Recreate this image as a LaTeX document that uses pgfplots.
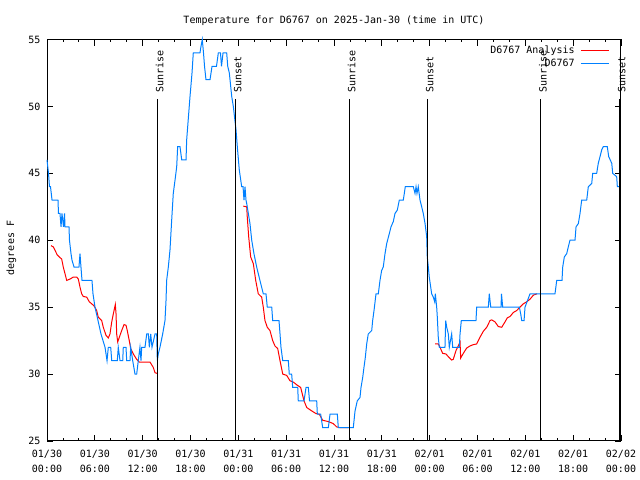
\documentclass[border=0pt]{standalone}
\usepackage{fontspec}
\setmainfont{DejaVu Sans Mono}
\usepackage{pgfplots}
\pgfplotsset{compat=1.18}
\definecolor{obsblue}{RGB}{0,128,255}
\definecolor{anared}{RGB}{255,0,0}
\newcommand{\gfont}{\fontsize{10bp}{12bp}\selectfont}
\begin{document}
\begin{tikzpicture}
\path[use as bounding box] (0,0) rectangle (640bp,480bp);
\begin{axis}[
  at={(47bp,39bp)}, anchor=south west,
  scale only axis, width=574bp, height=401.5bp,
  xmin=0, xmax=72, ymin=25, ymax=55,
  clip=false,
  xtick={0,6,...,72},
  xticklabels={{01/30\\00:00},{01/30\\06:00},{01/30\\12:00},{01/30\\18:00},{01/31\\00:00},{01/31\\06:00},{01/31\\12:00},{01/31\\18:00},{02/01\\00:00},{02/01\\06:00},{02/01\\12:00},{02/01\\18:00},{02/02\\00:00}},
  minor x tick num=2,
  ytick={25,30,...,55},
  tick align=inside,
  major tick length=6bp, minor tick length=3bp,
  every tick/.style={black, line width=0.8bp},
  axis line style={black, line width=1bp},
  font=\gfont,
  /pgf/number format/assume math mode=true,
  xticklabel style={align=center, font=\fontsize{10bp}{15bp}\selectfont, yshift=-6bp},
  yticklabel style={xshift=-3bp},
  legend style={at={(0.98,0.99)}, anchor=north east, draw=none, fill=none,
    inner sep=0pt, row sep=0bp, font=\gfont},
  legend cell align=right,
  legend plot pos=right,
]
\addlegendimage{legend image code/.code={\path (0bp,0bp); \draw[anared, line width=1bp] (4bp,0bp) -- (32bp,0bp);}}
\addlegendentry{D6767 Analysis}
\addlegendimage{legend image code/.code={\path (0bp,0bp); \draw[obsblue, line width=1bp] (4bp,0bp) -- (32bp,0bp);}}
\addlegendentry{D6767}
% Analysis (red), three segments
\addplot[anared, line width=1bp, forget plot] coordinates {
(0.50,39.6)(0.79,39.5)(1.00,39.25)(1.29,38.9)(1.63,38.7)(1.84,38.6)(2.04,38)(2.26,37.5)(2.47,37)(2.89,37.1)(3.30,37.25)(3.73,37.25)(3.93,37.1)(4.14,36.5)(4.35,36)(4.55,35.8)(4.98,35.75)(5.31,35.4)(5.61,35.25)(5.90,35.1)(6.23,34.75)(6.43,34.25)(6.86,34)(7.06,33.5)(7.40,32.9)(7.69,32.7)(7.90,33)(8.12,33.9)(8.32,34.5)(8.57,35.2)(8.66,34.5)(8.74,33)(8.87,32.4)(9.16,32.9)(9.37,33.25)(9.66,33.7)(9.91,33.65)(10.07,33.25)(10.32,32.5)(10.50,31.9)(10.83,31.5)(11.25,31.1)(11.58,30.9)(12.51,30.9)(12.92,30.9)(13.33,30.5)(13.55,30.1)(13.84,30.05)
};
\addplot[anared, line width=1bp, forget plot] coordinates {
(24.62,42.55)(25.05,42.5)(25.12,41.75)(25.30,40.25)(25.55,38.75)(25.88,38.25)(26.18,37)(26.50,36)(26.93,35.75)(27.13,35)(27.34,34)(27.63,33.5)(27.97,33.25)(28.31,32.5)(28.60,32.1)(28.94,31.9)(29.23,31)(29.57,30)(30.07,29.9)(30.48,29.5)(30.90,29.4)(31.32,29.2)(31.82,29)(32.24,28)(32.58,27.5)(33.20,27.25)(33.74,27.05)(34.16,27)(34.58,26.55)(35.29,26.45)(35.91,26.3)(36.34,26.05)(36.75,26)(37.79,26)
};
\addplot[anared, line width=1bp, forget plot] coordinates {
(48.67,32.25)(49.08,32.25)(49.30,32)(49.63,31.55)(50.05,31.5)(50.34,31.3)(50.76,31.05)(50.96,31.1)(51.30,31.75)(51.59,32.1)(51.81,32.4)(51.89,31.2)(52.22,31.55)(52.65,31.95)(53.06,32.1)(53.48,32.2)(53.90,32.25)(54.31,32.75)(54.73,33.2)(55.16,33.5)(55.57,34)(55.78,34.05)(56.20,33.9)(56.61,33.55)(57.04,33.5)(57.45,33.9)(57.74,34.2)(58.08,34.3)(58.49,34.6)(58.92,34.75)(59.33,35)(59.75,35.25)(60.17,35.4)(60.59,35.6)(61.01,35.9)(61.47,36)
};
% Observations (blue)
\addplot[obsblue, line width=1bp, forget plot] coordinates {
(0,46)(0.19,45)(0.31,44)(0.44,44)(0.63,43)(1.38,43)(1.44,42)(1.63,42)(1.76,41)(1.88,42)(2.07,41)(2.20,42)(2.26,41)(2.76,41)(2.82,40)(3.01,39)(3.14,38.5)(3.39,38)(4.01,38)(4.14,39)(4.26,38)(4.39,37)(5.64,37)(5.77,36)(6.02,35)(6.40,34)(6.77,33)(7.28,32)(7.53,31)(7.69,32)(7.99,32)(8.12,31)(8.82,31)(8.94,32)(9.16,31)(9.50,31)(9.57,32)(9.91,32)(10.00,31)(10.41,31)(10.50,32)(10.75,31)(11.04,30)(11.25,30)(11.45,31)(11.66,32)(11.79,31)(11.88,32)(12.29,32)(12.51,33)(12.71,33)(12.84,32)(13.01,33)(13.17,32)(13.55,33)(13.76,33)(13.84,31)(13.96,31.5)(14.17,32)(14.51,33)(14.80,34)(14.93,35.5)(15.01,37)(15.22,38)(15.43,39.3)(15.64,41.5)(15.84,43.5)(16.06,44.5)(16.27,45.5)(16.39,47)(16.68,47)(16.90,46)(17.44,46)(17.52,47.5)(17.94,50.75)(18.19,52.5)(18.35,54)(19.19,54)(19.32,54.5)(19.48,55)(19.63,54)(19.76,53)(19.94,52)(20.45,52)(20.70,53)(21.26,53)(21.49,54)(21.76,54)(21.89,53)(22.08,54)(22.54,54)(22.67,53)(22.87,52.5)(23.17,50.75)(23.37,50)(23.71,48.25)(23.87,47)(24.12,45.25)(24.42,44)(24.59,44)(24.71,43)(24.84,44)(24.96,43)(25.05,42.75)(25.46,41.25)(25.68,40)(25.96,39)(26.30,38)(26.71,37)(27.13,36)(27.47,36)(27.63,35)(28.19,35)(28.31,34)(29.10,34)(29.23,33)(29.35,32)(29.57,31)(30.27,31)(30.39,30)(30.69,30)(30.82,29)(31.45,29)(31.52,28)(32.24,28)(32.49,29)(32.78,29)(32.93,28)(33.83,28)(33.91,27)(34.33,27)(34.58,26)(35.29,26)(35.50,27)(36.42,27)(36.54,26)(38.42,26)(38.64,27.25)(38.92,28)(39.26,28.25)(39.39,29)(39.60,29.75)(39.76,30.5)(39.93,31.25)(40.10,32.25)(40.30,33)(40.73,33.25)(40.85,34)(41.02,34.75)(41.27,36)(41.56,36)(41.77,37)(41.98,37.75)(42.18,38)(42.40,39)(42.61,39.75)(42.94,40.5)(43.15,41)(43.44,41.4)(43.65,42)(43.94,42.25)(44.19,43)(44.69,43)(44.82,43.5)(44.94,44)(45.95,44)(46.16,43.5)(46.29,44)(46.41,43.5)(46.57,44)(46.79,43)(47.00,42.5)(47.20,42)(47.42,41.25)(47.63,40.25)(47.70,38.75)(47.83,38)(47.95,37.25)(48.13,36.5)(48.25,36)(48.46,35.75)(48.63,35.4)(48.71,36)(48.88,35)(48.96,34.25)(49.08,32.75)(49.21,32)(49.92,32)(50.01,34)(50.14,33.5)(50.34,33)(50.46,32)(50.76,33)(50.89,32)(51.72,32)(51.81,33)(51.97,34)(53.81,34)(53.90,35)(55.36,35)(55.48,36)(55.66,35)(56.95,35)(57.01,36)(57.16,35)(59.25,35)(59.42,34.5)(59.55,34)(59.84,34)(59.96,35)(60.59,36)(63.72,36)(63.94,37)(64.60,37)(64.69,38)(64.89,38.75)(65.19,39)(65.39,39.5)(65.60,40)(66.23,40)(66.36,41)(66.65,41.25)(66.86,42)(67.07,43)(67.70,43)(67.90,44)(68.33,44.25)(68.45,45)(68.95,45)(69.15,45.75)(69.37,46.25)(69.58,46.75)(69.78,47)(70.28,47)(70.46,46.25)(70.84,45.75)(70.96,45)(71.46,44.75)(71.54,44)(71.79,44)
};
% Sunrise / sunset markers
\addplot[black, line width=1bp, forget plot] coordinates {(13.84,25)(13.84,50.55)};
\addplot[black, line width=1bp, forget plot] coordinates {(23.62,25)(23.62,50.55)};
\addplot[black, line width=1bp, forget plot] coordinates {(37.92,25)(37.92,50.55)};
\addplot[black, line width=1bp, forget plot] coordinates {(47.70,25)(47.70,50.55)};
\addplot[black, line width=1bp, forget plot] coordinates {(61.93,25)(61.93,50.55)};
\addplot[black, line width=1bp, forget plot] coordinates {(71.79,25)(71.79,50.55)};
\node[rotate=90, anchor=base west, inner sep=0pt, font=\gfont] at ([xshift=6bp]axis cs:13.84,51.05) {Sunrise};
\node[rotate=90, anchor=base west, inner sep=0pt, font=\gfont] at ([xshift=6bp]axis cs:23.62,51.05) {Sunset};
\node[rotate=90, anchor=base west, inner sep=0pt, font=\gfont] at ([xshift=6bp]axis cs:37.92,51.05) {Sunrise};
\node[rotate=90, anchor=base west, inner sep=0pt, font=\gfont] at ([xshift=6bp]axis cs:47.70,51.05) {Sunset};
\node[rotate=90, anchor=base west, inner sep=0pt, font=\gfont] at ([xshift=6bp]axis cs:61.93,51.05) {Sunrise};
\node[rotate=90, anchor=base west, inner sep=0pt, font=\gfont] at ([xshift=6bp]axis cs:71.79,51.05) {Sunset};
\end{axis}
\node[anchor=base, inner sep=0pt, font=\gfont] at (334bp,456.5bp) {Temperature for D6767 on 2025-Jan-30 (time in UTC)};
\node[rotate=90, anchor=base, inner sep=0pt, font=\gfont] at (14bp,232bp) {degrees F};
\end{tikzpicture}
\end{document}
